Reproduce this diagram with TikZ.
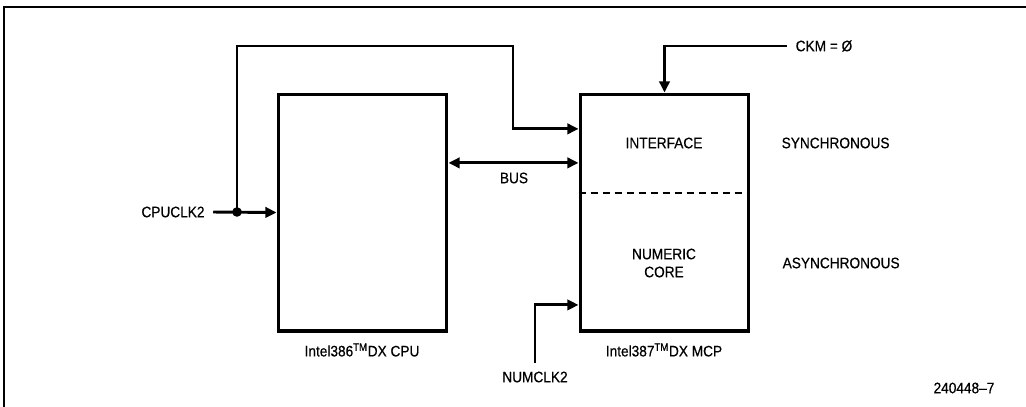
\documentclass[tikz,border=0pt]{standalone}
\usepackage{fontspec}
\setmainfont[FakeStretch=0.9, FakeBold=0.5]{Liberation Sans}
\usetikzlibrary{arrows.meta, positioning}

\begin{document}
\begin{tikzpicture}[
            x=0.025cm, y=-0.025cm,
            >={Triangle[length=0.28cm, width=0.26cm]},
            font=\fontsize{10.8}{12.8}\selectfont,
            chip/.style={rectangle, draw, line width=2.8pt,
                minimum width=4.2cm, minimum height=5.9cm
            },
            wire/.style={draw, line width=2.1pt},
            sig/.style={inner sep=6pt},
            txt/.style={inner sep=1pt, align=center}
        ]
            \useasboundingbox (0,0) rectangle (1026,407);
            % Khung
            \draw[line width=1pt] (4,407) -- (4,7) -- (1026,7);

            % Các khối
            \node [chip] (cpu) at (362.5,212.5) {};
            \node [chip] (mcp) at (664.5,212.5) {};
            \draw [line width=2pt, dash pattern=on 0.18cm off 0.12cm]
                (mcp.west |- 0,193) -- (mcp.east |- 0,193);

            % Nhãn
            \node [txt] (iface) at (664,143) {INTERFACE};
            \node [txt] (core) at (664,263) {NUMERIC\\CORE};
            \node [txt, anchor=west] (sync) at (780,143) {SYNCHRONOUS};
            \node [txt, anchor=west] (async) at (781,263) {ASYNCHRONOUS};
            \node [txt] (cpuname) at (362,350) {Intel386\textsuperscript{TM}DX CPU};
            \node [txt] (mcpname) at (664,350) {Intel387\textsuperscript{TM}DX MCP};
            \node [txt] (bus) at (514,178) {BUS};
            \node [txt] (figno) at (964,388) {240448--7};
            \node [sig] (cpuclk) at (173,212) {CPUCLK2};
            \node [sig] (ckm) at (824,46) {CKM = Ø};
            \node [sig] (numclk) at (535,377) {NUMCLK2};

            % Đường nối
            \coordinate (jn) at (237,212);
            \coordinate (fb) at (513,46);
            \path [wire, ->] (cpuclk.east) -- (cpu.west);
            \fill (jn) circle (0.12cm);
            \path [wire, ->] (jn) |- (fb) |- ([yshift=2.09cm]mcp.west);
            \path [wire, <->] ([yshift=1.24cm]cpu.east) -- ([yshift=1.24cm]mcp.west);
            \path [wire, ->] (ckm.west) -| (mcp.north);
            \path [wire, ->] (numclk.north) |- ([yshift=-2.31cm]mcp.west);
        \end{tikzpicture}
\end{document}
